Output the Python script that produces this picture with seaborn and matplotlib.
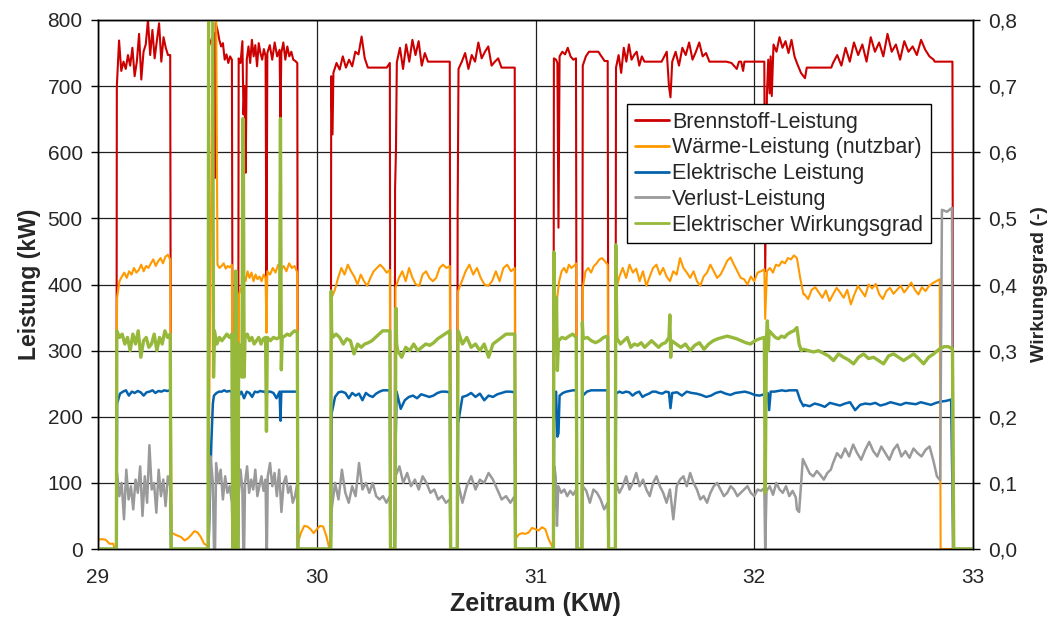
"""
BHKW-Betrieb KW 29-33: Leistungen und elektrischer Wirkungsgrad.
"""

import matplotlib
matplotlib.use("Agg")
import matplotlib.pyplot as plt
import seaborn as sns
import pandas as pd
import numpy as np

# ---------------------------------------------------------------------------
# Data: each series is a list of (KW start, KW end, [values]).
# Values inside one segment are spread evenly between start and end.
# ---------------------------------------------------------------------------

brennstoff_kw = [
    (29.000, 29.084, [0, 0]),
    (29.086, 29.330, [700, 769, 723, 737, 726, 747, 731, 758, 715, 737, 779, 710, 752,
                      763, 800, 747, 785, 742, 768, 795, 737, 774, 758, 747, 747]),
    (29.334, 29.503, [0, 0]),
    (29.506, 29.530, [760, 780]),
    (29.534, 29.534, [561]),
    (29.538, 29.612, [795, 785, 770, 760, 765, 740, 748, 735, 745, 740]),
    (29.617, 29.640, [0, 0]),
    (29.643, 29.660, [742, 735, 768]),
    (29.665, 29.665, [657]),
    (29.670, 29.670, [700]),
    (29.675, 29.675, [569]),
    (29.680, 29.766, [740, 760, 735, 770, 745, 762, 730, 765, 750, 740, 756, 745]),
    (29.770, 29.770, [390]),
    (29.774, 29.830, [750, 762, 740, 766, 745, 755]),
    (29.834, 29.834, [651]),
    (29.838, 29.911, [750, 766, 740, 760, 745, 752, 740, 738, 735]),
    (29.914, 30.064, [0, 0]),
    (30.066, 30.066, [715]),
    (30.072, 30.072, [627]),
    (30.076, 30.334, [720, 735, 725, 745, 728, 740, 730, 752, 748, 775, 742, 728, 728,
                      728, 728, 728, 728, 728, 735]),
    (30.337, 30.356, [0, 0]),
    (30.358, 30.358, [545]),
    (30.362, 30.362, [603]),
    (30.366, 30.608, [736, 758, 726, 763, 737, 770, 747, 768, 731, 750, 737, 737, 737,
                      737, 737, 737, 737, 737]),
    (30.612, 30.642, [0, 0]),
    (30.644, 30.644, [508]),
    (30.648, 30.905, [726, 737, 750, 726, 747, 737, 766, 742, 752, 760, 731, 737, 742,
                      728, 728, 728, 728, 728]),
    (30.908, 31.082, [0, 0]),
    (31.084, 31.084, [742]),
    (31.094, 31.100, [740, 735]),
    (31.105, 31.105, [486]),
    (31.110, 31.185, [745, 752, 748, 758, 745, 740, 742]),
    (31.189, 31.213, [0, 0]),
    (31.216, 31.330, [731, 745, 752, 752, 752, 752, 745, 738, 738]),
    (31.334, 31.365, [0, 0]),
    (31.368, 31.498, [728, 747, 720, 758, 737, 763, 740, 747, 752, 731, 745, 737]),
    (31.505, 31.600, [737, 737, 737, 737, 752]),
    (31.610, 31.617, [700, 683]),
    (31.625, 31.795, [737, 752, 731, 758, 747, 766, 740, 752, 766, 745, 750, 737]),
    (31.800, 31.920, [737, 737, 737, 737, 735, 726]),
    (31.930, 31.940, [737, 737]),
    (31.949, 31.949, [723]),
    (31.955, 32.046, [737, 737, 737, 737]),
    (32.050, 32.050, [420]),
    (32.058, 32.058, [689]),
    (32.064, 32.064, [740]),
    (32.070, 32.070, [689]),
    (32.075, 32.080, [745, 685]),
    (32.088, 32.184, [763, 752, 774, 758, 768, 750, 770, 745]),
    (32.195, 32.232, [735, 720, 712]),
    (32.240, 32.352, [728, 728, 728, 728, 728, 728]),
    (32.360, 32.820, [735, 747, 731, 758, 737, 766, 747, 763, 737, 774, 752, 766, 745,
                      779, 752, 763, 740, 768, 752, 760, 747, 770, 755, 745, 740]),
    (32.825, 32.906, [737, 737, 737, 737]),
    (32.910, 33.000, [0, 0]),
]

waerme_kw = [
    (29.000, 29.070, [14, 15, 14, 8, 8]),
    (29.075, 29.084, [0, 0]),
    (29.087, 29.330, [380, 405, 412, 418, 410, 420, 415, 425, 418, 422, 430, 420, 428,
                      425, 432, 438, 428, 435, 440, 432, 442, 445, 438]),
    (29.336, 29.500, [25, 22, 20, 18, 13, 16, 21, 27, 25, 18, 8, 5]),
    (29.503, 29.503, [0]),
    (29.525, 29.540, [820, 820]),
    (29.546, 29.612, [430, 425, 428, 432, 424, 428, 426, 430]),
    (29.616, 29.640, [0, 0]),
    (29.644, 29.660, [385, 400]),
    (29.665, 29.766, [415, 405, 420, 410, 418, 405, 415, 408, 412, 405, 415, 410]),
    (29.770, 29.770, [327]),
    (29.774, 29.911, [420, 415, 425, 418, 430, 422, 428, 420, 432, 425, 428, 418]),
    (29.914, 30.058, [10, 25, 35, 34, 30, 24, 30, 35, 34, 20, 0]),
    (30.062, 30.064, [0, 0]),
    (30.068, 30.334, [380, 392, 410, 425, 415, 430, 420, 412, 400, 415, 405, 398, 410,
                      420, 425, 430, 425, 418, 422]),
    (30.337, 30.357, [0, 0]),
    (30.360, 30.608, [395, 410, 420, 405, 425, 410, 400, 398, 415, 420, 410, 405, 410,
                      425, 430, 425, 428]),
    (30.612, 30.642, [0, 0]),
    (30.646, 30.905, [390, 405, 420, 430, 415, 425, 410, 400, 398, 405, 420, 405, 425,
                      430, 420, 425]),
    (30.908, 31.075, [15, 22, 24, 23, 25, 32, 30, 28, 33, 30, 15, 5]),
    (31.080, 31.082, [0, 0]),
    (31.086, 31.186, [380, 375, 405, 420, 425, 418, 430, 425, 428, 432]),
    (31.190, 31.212, [0, 0]),
    (31.216, 31.330, [395, 420, 425, 418, 428, 432, 438, 440, 435, 430]),
    (31.334, 31.365, [0, 0]),
    (31.368, 32.046, [391, 412, 425, 410, 430, 418, 424, 405, 420, 398, 412, 425, 430,
                      415, 425, 412, 405, 420, 415, 440, 425, 418, 410, 420, 405, 398,
                      412, 418, 430, 420, 410, 415, 425, 436, 441, 430, 420, 410, 408,
                      400, 412, 405, 418, 420, 423]),
    (32.050, 32.050, [348]),
    (32.058, 32.195, [420, 425, 418, 430, 428, 435, 432, 440, 438, 444, 440]),
    (32.210, 32.225, [410, 385]),
    (32.230, 32.848, [385, 378, 392, 396, 388, 380, 391, 375, 385, 395, 388, 380, 392,
                      370, 385, 398, 390, 382, 400, 394, 401, 385, 378, 390, 395, 386,
                      392, 398, 388, 395, 403, 392, 385, 396, 390, 398, 402, 405, 408]),
    (32.852, 33.000, [0, 0]),
]

elektrisch_kw = [
    (29.000, 29.084, [0, 0]),
    (29.087, 29.330, [220, 235, 238, 240, 232, 238, 236, 239, 237, 232, 237, 238, 240,
                      236, 239, 238, 240, 239, 240]),
    (29.334, 29.505, [0, 0]),
    (29.518, 29.525, [160, 220]),
    (29.530, 29.612, [232, 236, 238, 238, 240, 238, 239, 238]),
    (29.616, 29.640, [0, 0]),
    (29.643, 29.766, [232, 238, 228, 238, 236, 230, 238, 237, 239, 238, 238]),
    (29.770, 29.770, [230]),
    (29.774, 29.830, [238, 238, 236, 228, 238]),
    (29.834, 29.834, [194]),
    (29.838, 29.911, [238, 238, 238, 238, 238, 238]),
    (29.914, 30.064, [0, 0]),
    (30.068, 30.334, [205, 230, 237, 238, 236, 228, 236, 232, 235, 225, 236, 232, 230,
                      235, 238, 240, 240, 240]),
    (30.337, 30.357, [0, 0]),
    (30.360, 30.360, [150]),
    (30.365, 30.608, [238, 212, 225, 230, 232, 228, 234, 232, 230, 232, 236, 238, 238, 237]),
    (30.612, 30.642, [0, 0]),
    (30.646, 30.905, [190, 230, 232, 236, 230, 235, 225, 232, 230, 234, 236, 238, 238, 237]),
    (30.908, 31.082, [0, 0]),
    (31.086, 31.086, [230]),
    (31.094, 31.094, [238]),
    (31.100, 31.105, [170, 175]),
    (31.110, 31.186, [232, 236, 238, 239, 240, 240]),
    (31.190, 31.212, [0, 0]),
    (31.216, 31.330, [232, 238, 240, 240, 240, 240, 240]),
    (31.334, 31.365, [0, 0]),
    (31.368, 31.610, [235, 238, 236, 238, 237, 232, 236, 238, 230, 233, 235, 238, 238,
                      236, 235, 238, 237]),
    (31.617, 31.617, [213]),
    (31.625, 32.046, [236, 237, 232, 238, 236, 235, 233, 230, 232, 236, 238, 235, 233,
                      236, 237, 238, 236, 233, 232, 234]),
    (32.052, 32.062, [230, 236]),
    (32.068, 32.068, [210]),
    (32.075, 32.195, [238, 238, 239, 240, 239, 240, 240, 240]),
    (32.210, 32.225, [225, 216]),
    (32.230, 32.900, [218, 216, 220, 218, 215, 221, 219, 217, 220, 222, 210, 218, 220,
                      219, 221, 217, 219, 222, 220, 218, 221, 220, 219, 222, 220, 218,
                      221, 223, 224, 226]),
    (32.910, 33.000, [0, 0]),
]

verlust_kw = [
    (29.000, 29.084, [0, 0]),
    (29.087, 29.330, [115, 80, 100, 45, 120, 75, 95, 60, 105, 85, 125, 50, 110, 70, 157,
                      90, 100, 55, 120, 80, 105, 65, 110, 95]),
    (29.334, 29.505, [0, 0]),
    (29.515, 29.525, [140, 100]),
    (29.530, 29.535, [0, 0]),
    (29.540, 29.612, [130, 100, 120, 75, 110, 85, 95, 70]),
    (29.616, 29.640, [0, 0]),
    (29.643, 29.660, [80, 120, 90]),
    (29.664, 29.668, [0, 0]),
    (29.672, 29.766, [100, 125, 85, 105, 90, 120, 80, 95, 110, 88, 105]),
    (29.770, 29.772, [0, 0]),
    (29.776, 29.911, [110, 130, 95, 115, 80, 120, 56, 100, 110, 85, 95, 70, 80, 100]),
    (29.914, 30.064, [0, 0]),
    (30.068, 30.334, [60, 100, 75, 120, 85, 70, 95, 80, 130, 90, 100, 85, 100, 80, 75,
                      80, 70, 80]),
    (30.337, 30.357, [0, 0]),
    (30.360, 30.608, [110, 125, 100, 115, 95, 105, 90, 110, 100, 85, 90, 75, 80, 70, 75]),
    (30.612, 30.642, [0, 0]),
    (30.646, 30.905, [100, 70, 95, 110, 90, 105, 100, 115, 105, 90, 75, 80, 70, 80]),
    (30.908, 31.082, [0, 0]),
    (31.086, 31.092, [125, 110]),
    (31.098, 31.098, [35]),
    (31.104, 31.186, [95, 85, 90, 80, 88, 82, 90]),
    (31.190, 31.212, [0, 0]),
    (31.216, 31.330, [95, 88, 70, 90, 85, 75, 60, 70]),
    (31.334, 31.365, [0, 0]),
    (31.368, 32.046, [100, 85, 95, 110, 90, 100, 115, 95, 105, 90, 80, 100, 110, 95, 85,
                      70, 90, 45, 95, 105, 110, 95, 115, 100, 90, 75, 80, 70, 85, 95,
                      100, 90, 80, 85, 95, 90, 80, 85, 90, 95, 85, 80, 90, 88, 92]),
    (32.050, 32.050, [0]),
    (32.056, 32.190, [88, 95, 82, 100, 90, 85, 95, 80, 88, 78]),
    (32.195, 32.205, [60, 56]),
    (32.222, 32.350, [136, 125, 114, 110, 118, 112, 105, 115, 120]),
    (32.360, 32.820, [130, 145, 138, 152, 140, 158, 145, 135, 150, 162, 148, 140, 155,
                      145, 135, 150, 158, 140, 148, 138, 152, 145, 140, 150, 155, 132]),
    (32.835, 32.850, [110, 104]),
    (32.858, 32.904, [513, 510, 516]),
    (32.908, 33.000, [0, 0]),
]

wirkungsgrad = [
    (29.000, 29.084, [0, 0]),
    (29.086, 29.330, [0.33, 0.32, 0.325, 0.31, 0.32, 0.30, 0.325, 0.31, 0.33, 0.29, 0.315,
                      0.32, 0.305, 0.31, 0.325, 0.30, 0.32, 0.31, 0.33, 0.32, 0.325]),
    (29.334, 29.503, [0, 0]),
    (29.506, 29.524, [0.9, 0.9]),
    (29.528, 29.528, [0.26]),
    (29.532, 29.612, [0.33, 0.31, 0.32, 0.315, 0.32, 0.325, 0.32, 0.325]),
    (29.616, 29.622, [0, 0]),
    (29.628, 29.632, [0.42, 0.42]),
    (29.636, 29.640, [0, 0]),
    (29.643, 29.658, [0.31, 0.29, 0.26]),
    (29.662, 29.664, [0.651, 0.65]),
    (29.668, 29.668, [0.26]),
    (29.672, 29.766, [0.32, 0.325, 0.315, 0.32, 0.31, 0.315, 0.32, 0.31, 0.318, 0.32]),
    (29.770, 29.770, [0.178]),
    (29.774, 29.830, [0.32, 0.315, 0.32, 0.318, 0.32]),
    (29.834, 29.834, [0.651]),
    (29.838, 29.838, [0.271]),
    (29.842, 29.911, [0.32, 0.322, 0.325, 0.323, 0.327, 0.33, 0.328]),
    (29.914, 30.064, [0, 0]),
    (30.066, 30.068, [0.39, 0.33]),
    (30.072, 30.334, [0.32, 0.325, 0.32, 0.31, 0.318, 0.315, 0.295, 0.31, 0.305, 0.31,
                      0.312, 0.315, 0.32, 0.325, 0.33, 0.33, 0.33]),
    (30.337, 30.357, [0, 0]),
    (30.362, 30.365, [0.364, 0.31]),
    (30.370, 30.608, [0.30, 0.29, 0.305, 0.30, 0.31, 0.30, 0.305, 0.31, 0.308, 0.312,
                      0.318, 0.322, 0.326, 0.33]),
    (30.612, 30.642, [0, 0]),
    (30.646, 30.905, [0.33, 0.31, 0.32, 0.305, 0.31, 0.30, 0.31, 0.29, 0.31, 0.315, 0.32,
                      0.325, 0.325, 0.325]),
    (30.908, 31.082, [0, 0]),
    (31.084, 31.084, [0.449]),
    (31.088, 31.092, [0.32, 0.31]),
    (31.096, 31.096, [0.38]),
    (31.100, 31.100, [0.27]),
    (31.105, 31.186, [0.315, 0.32, 0.318, 0.322, 0.325, 0.32]),
    (31.190, 31.212, [0, 0]),
    (31.214, 31.214, [0.343]),
    (31.218, 31.330, [0.318, 0.32, 0.315, 0.312, 0.315, 0.32, 0.322]),
    (31.334, 31.365, [0, 0]),
    (31.367, 31.367, [0.46]),
    (31.372, 31.610, [0.319, 0.31, 0.315, 0.32, 0.305, 0.31, 0.308, 0.312, 0.305, 0.31,
                      0.315, 0.31, 0.305, 0.31, 0.312, 0.32]),
    (31.614, 31.614, [0.354]),
    (31.618, 31.618, [0.29]),
    (31.622, 32.046, [0.315, 0.31, 0.305, 0.31, 0.30, 0.308, 0.312, 0.302, 0.31, 0.315,
                      0.318, 0.32, 0.322, 0.32, 0.318, 0.315, 0.312, 0.31, 0.315, 0.318,
                      0.32]),
    (32.050, 32.050, [0.085]),
    (32.056, 32.060, [0.32, 0.345]),
    (32.064, 32.064, [0.30]),
    (32.068, 32.195, [0.33, 0.325, 0.32, 0.318, 0.322, 0.32, 0.325, 0.328, 0.33, 0.335]),
    (32.205, 32.215, [0.31, 0.30]),
    (32.225, 32.820, [0.302, 0.30, 0.298, 0.30, 0.296, 0.292, 0.285, 0.295, 0.29, 0.286,
                      0.28, 0.29, 0.295, 0.288, 0.29, 0.285, 0.28, 0.292, 0.295, 0.29,
                      0.285, 0.29, 0.295, 0.288, 0.28, 0.29, 0.295]),
    (32.830, 32.906, [0.298, 0.303, 0.306, 0.306, 0.303]),
    (32.912, 33.000, [0, 0]),
]

kw_ticks = [29, 30, 31, 32, 33]
leistung_ticks = [0, 100, 200, 300, 400, 500, 600, 700, 800]
eta_ticks = [0.0, 0.1, 0.2, 0.3, 0.4, 0.5, 0.6, 0.7, 0.8]
eta_labels = ["0,0", "0,1", "0,2", "0,3", "0,4", "0,5", "0,6", "0,7", "0,8"]

power_series = [
    ("Brennstoff-Leistung", brennstoff_kw, "#CC0000", 1.5),
    ("Wärme-Leistung (nutzbar)", waerme_kw, "#FF9900", 1.5),
    ("Elektrische Leistung", elektrisch_kw, "#0563AE", 1.8),
    ("Verlust-Leistung", verlust_kw, "#9A9A9A", 1.8),
]


def expand(segments):
    """Turn (start, end, values) segments into one time/value table."""
    t, v = [], []
    for t0, t1, vals in segments:
        t.extend(np.linspace(t0, t1, len(vals)))
        v.extend(vals)
    return pd.DataFrame({"KW": t, "Wert": v})


# Style
sns.set_style("white")
plt.rcParams["font.family"] = ["Liberation Sans", "DejaVu Sans"]

fig, ax = plt.subplots(figsize=(10.62, 6.21), dpi=100)
fig.subplots_adjust(left=0.0923, right=0.9162, bottom=0.1159, top=0.9678)

for label, segs, color, lw in power_series:
    sns.lineplot(data=expand(segs), x="KW", y="Wert", ax=ax, color=color,
                 linewidth=lw, sort=False, estimator=None, label=label)

ax2 = ax.twinx()
sns.lineplot(data=expand(wirkungsgrad), x="KW", y="Wert", ax=ax2, color="#96B93C",
             linewidth=2.4, sort=False, estimator=None,
             label="Elektrischer Wirkungsgrad")

# Axes
ax.set_xlim(29, 33)
ax.set_ylim(0, 800)
ax2.set_ylim(0, 0.8)
ax.set_xticks(kw_ticks)
ax.set_xticklabels([str(k) for k in kw_ticks])
ax.set_yticks(leistung_ticks)
ax2.set_yticks(eta_ticks)
ax2.set_yticklabels(eta_labels)

ax.grid(True, color="#202020", linewidth=0.9)
ax.set_axisbelow(True)

for a in (ax, ax2):
    for sp in a.spines.values():
        sp.set_color("black")
        sp.set_linewidth(1.0)
    a.tick_params(axis="both", direction="out", length=5, width=1, color="black",
                  labelsize=15, pad=6)
ax.tick_params(axis="x", pad=9)

ax.set_xlabel("Zeitraum (KW)", fontsize=18, fontweight="bold", labelpad=3)
ax.set_ylabel("Leistung (kW)", fontsize=16.5, fontweight="bold", labelpad=5)
ax2.set_ylabel("Wirkungsgrad (-)", fontsize=14, fontweight="bold", labelpad=10)

# Legend: combine both axes, draw on top
h1, l1 = ax.get_legend_handles_labels()
h2, l2 = ax2.get_legend_handles_labels()
ax.get_legend().remove()
leg = ax2.legend(h1 + h2, l1 + l2, loc="upper left", bbox_to_anchor=(0.6046, 0.841),
                 fontsize=15.5, frameon=True, fancybox=False, framealpha=1,
                 edgecolor="black", borderpad=0.35, labelspacing=0.22,
                 handlelength=1.6, handletextpad=0.15, borderaxespad=0)
leg.get_frame().set_linewidth(1.0)
for line in leg.get_lines():
    line.set_linewidth(2.0)
leg.set_zorder(10)

fig.savefig("out.png", dpi=100)
